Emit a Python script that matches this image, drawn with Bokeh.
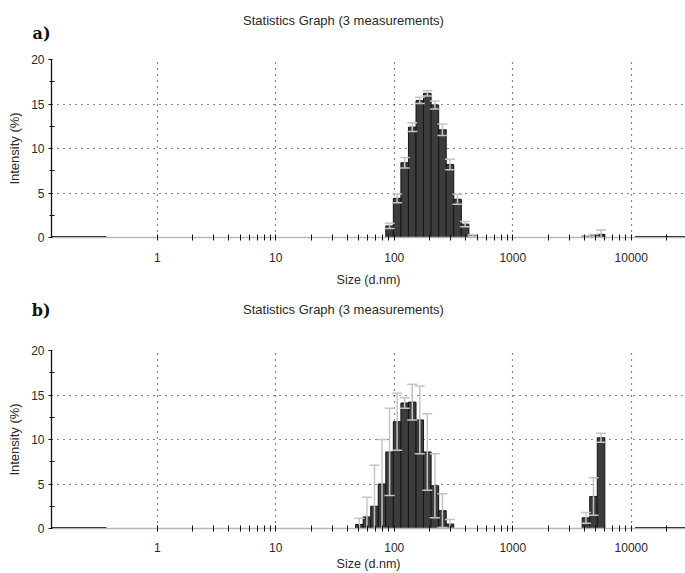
import math
from bokeh.plotting import figure
from bokeh.models import (Range1d, FixedTicker, NumeralTickFormatter, ColumnDataSource,
                          CustomJSTickFormatter)
from bokeh.core.properties import value
from bokeh.layouts import column
from bokeh.embed import file_html
from bokeh.resources import INLINE

# ---------------- data ----------------
title_text = "Statistics Graph (3 measurements)"
x_label = "Size (d.nm)"
y_label = "Intensity (%)"
panel_tags = ["a)", "b)"]

# panel a: size bins (d.nm), mean intensity (%), std dev
size_a = [91.28, 105.7, 122.4, 141.8, 164.2, 190.1, 220.2, 255.0, 295.3, 342.0, 396.1, 458.7,
          4145, 4801, 5560]
int_a = [1.3, 4.4, 8.4, 12.4, 15.4, 16.2, 14.9, 12.1, 8.2, 4.3, 1.5, 0.2,
         0.1, 0.2, 0.35]
err_a = [0.3, 0.5, 0.6, 0.5, 0.35, 0.3, 0.45, 0.65, 0.6, 0.55, 0.3, 0.1,
         0.1, 0.15, 0.5]

# panel b
size_b = [50.75, 58.77, 68.06, 78.82, 91.28, 105.7, 122.4, 141.8, 164.2, 190.1, 220.2, 255.0, 295.3,
          4145, 4801, 5560]
int_b = [0.45, 1.3, 2.5, 5.0, 8.6, 12.0, 14.1, 14.2, 12.2, 8.6, 4.8, 2.0, 0.5,
         1.2, 3.6, 10.2]
err_b = [0.7, 2.2, 4.6, 5.0, 4.9, 3.2, 0.6, 2.0, 3.8, 4.3, 3.6, 1.9, 0.5,
         0.6, 2.1, 0.5]

x_major = [1, 10, 100, 1000, 10000]
x_minor = [2, 3, 4, 5, 6, 7, 8, 9,
           20, 30, 40, 50, 60, 70, 80, 90,
           200, 300, 400, 500, 600, 700, 800, 900,
           2000, 3000, 4000, 5000, 6000, 7000, 8000, 9000,
           20000]
y_major = [0, 5, 10, 15, 20]
y_minor = [2.5, 7.5, 12.5, 17.5]
y_grid = [5, 10, 15, 20]
x_lo, x_hi = 0.128, 28700
y_lo, y_hi = 0, 20
bin_first, bin_last, n_bins = 0.4, 10000, 70

# ---------------- style ----------------
W = 685
LEFT = 51
FONT = "Liberation Sans"
TXT = "#2a2a2a"
BAR_FILL = "#3c3c3c"
BAR_LINE = "#141414"
ERR = "#c4c4c4"

half = (math.log10(bin_last) - math.log10(bin_first)) / (n_bins - 1) / 2.0
fac = 10 ** half


def make_header(tag, height, title_y, tag_y):
    # frame spans LEFT..W, so x data == page pixels; y runs downward
    h = figure(width=W, height=height, x_range=Range1d(LEFT, W), y_range=Range1d(height, 0),
               output_backend="svg", toolbar_location=None,
               x_axis_location=None,
               min_border=0, min_border_left=LEFT, min_border_right=0,
               min_border_top=0, min_border_bottom=0)
    h.outline_line_color = None
    h.xgrid.visible = False
    h.ygrid.visible = False
    ya = h.yaxis[0]
    ya.ticker = FixedTicker(ticks=[tag_y], minor_ticks=[])
    ya.formatter = CustomJSTickFormatter(args=dict(t=tag), code="return t;")
    ya.axis_line_color = None
    ya.major_tick_line_color = None
    ya.minor_tick_line_color = None
    ya.major_tick_out = 0
    ya.major_tick_in = 0
    ya.major_label_standoff = 1
    ya.major_label_text_font = "DejaVu Serif"
    ya.major_label_text_font_style = "bold"
    ya.major_label_text_font_size = "16px"
    ya.major_label_text_color = "#111111"
    h.text(x=[343], y=[title_y], text=[title_text], text_align="center",
           text_baseline="middle", text_font=value(FONT), text_font_size="13px",
           text_color=TXT)
    return h


def make_panel(sizes, vals, errs, height, b_top, b_bottom, tk_standoff, xl_standoff):
    p = figure(width=W, height=height, x_axis_type="log",
               x_range=Range1d(x_lo, x_hi), y_range=Range1d(y_lo, y_hi),
               output_backend="svg", toolbar_location=None,
               min_border_left=LEFT, min_border_right=0,
               min_border_top=b_top, min_border_bottom=b_bottom)
    p.outline_line_color = None
    p.background_fill_color = "white"

    # grid
    p.xgrid.ticker = FixedTicker(ticks=x_major)
    p.ygrid.ticker = FixedTicker(ticks=y_grid)
    for g in (p.xgrid, p.ygrid):
        g.grid_line_color = "#111111"
        g.grid_line_dash = "1 5"
        g.grid_line_width = 1.2

    # x axis
    xa = p.xaxis[0]
    xa.ticker = FixedTicker(ticks=x_major, minor_ticks=x_minor)
    xa.formatter = NumeralTickFormatter(format="0")
    xa.axis_line_color = "#b8b8b8"
    xa.axis_line_width = 1.5
    xa.major_tick_line_color = "#111111"
    xa.minor_tick_line_color = "#111111"
    xa.major_tick_in = 3
    xa.major_tick_out = 3
    xa.minor_tick_in = 3
    xa.minor_tick_out = 3
    xa.major_label_standoff = tk_standoff
    xa.major_label_text_font = FONT
    xa.major_label_text_font_size = "12px"
    xa.major_label_text_color = TXT
    xa.axis_label = x_label
    xa.axis_label_standoff = xl_standoff
    xa.axis_label_text_font = FONT
    xa.axis_label_text_font_size = "12.5px"
    xa.axis_label_text_font_style = "normal"
    xa.axis_label_text_color = TXT

    # y axis
    ya = p.yaxis[0]
    ya.ticker = FixedTicker(ticks=y_major, minor_ticks=y_minor)
    ya.axis_line_color = "#111111"
    ya.axis_line_width = 1.3
    ya.major_tick_line_color = "#111111"
    ya.minor_tick_line_color = "#111111"
    ya.major_tick_in = 1
    ya.major_tick_out = 3
    ya.minor_tick_in = 3
    ya.minor_tick_out = 2
    ya.major_label_standoff = 4
    ya.major_label_text_font = FONT
    ya.major_label_text_font_size = "12px"
    ya.major_label_text_color = TXT
    ya.axis_label = y_label
    ya.axis_label_standoff = 6
    ya.axis_label_text_font = FONT
    ya.axis_label_text_font_size = "13px"
    ya.axis_label_text_font_style = "normal"
    ya.axis_label_text_color = TXT

    # out-of-range baseline
    p.segment(x0=[x_lo, bin_last * fac], y0=[y_lo, y_lo],
              x1=[bin_first / fac, x_hi], y1=[y_lo, y_lo],
              line_color="#111111", line_width=3)

    # bars
    src = ColumnDataSource(dict(
        left=[s / fac for s in sizes], right=[s * fac for s in sizes],
        top=vals, x=sizes,
        hi=[v + e for v, e in zip(vals, errs)],
        lo=[v - e for v, e in zip(vals, errs)]))
    p.quad(left="left", right="right", bottom=y_lo, top="top", source=src,
           fill_color=BAR_FILL, line_color=BAR_LINE, line_width=1)

    # error bars
    p.segment(x0="x", y0="lo", x1="x", y1="hi", source=src,
              line_color=ERR, line_width=1.5)
    p.dash(x="x", y="hi", source=src, size=10, line_color=ERR, line_width=1.5)
    p.dash(x="x", y="lo", source=src, size=10, line_color=ERR, line_width=1.5)
    return p


ha = make_header(panel_tags[0], 50, 20, 33)
pa = make_panel(size_a, int_a, err_a, 240, 9, 53, 12, 8)
hb = make_header(panel_tags[1], 40, 19, 20)
pb = make_panel(size_b, int_b, err_b, 243, 20, 45, 11, 2)

layout = column(ha, pa, hb, pb, spacing=0)
open("out.html", "w").write(file_html(layout, INLINE))
